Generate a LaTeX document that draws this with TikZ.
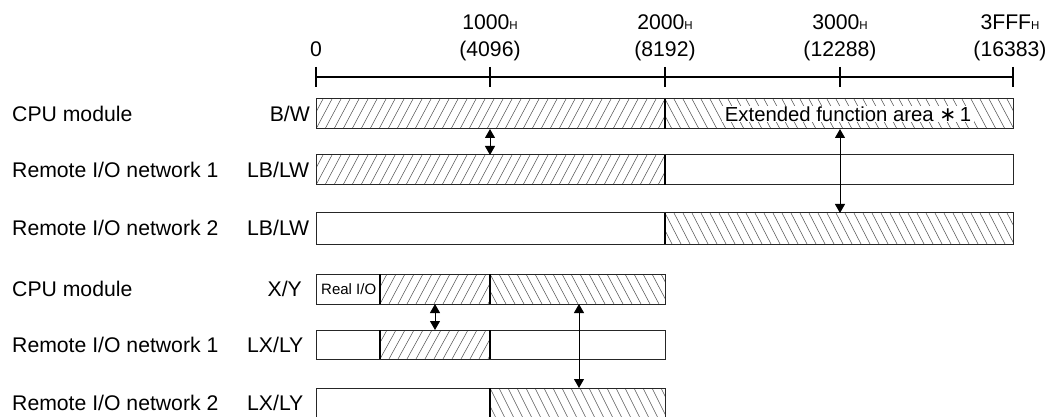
\documentclass[tikz,border=0pt]{standalone}
\usepackage{fontspec}
\setmainfont{Liberation Sans}
\newfontfamily\symfnt{DejaVu Sans}
\usetikzlibrary{arrows.meta}

\tikzset{
  box/.style={draw=black!85, line width=1pt},
  divider/.style={draw=black, line width=1.5pt},
  hatchline/.style={draw=black!65, line width=0.55pt},
  axisline/.style={line width=1.6pt},
  lbl/.style={font=\fontsize{21.2}{24}\selectfont, inner sep=0pt},
  extlbl/.style={font=\fontsize{20.3}{24}\selectfont, fill=white, inner xsep=3pt, inner ysep=1pt},
  small/.style={font=\fontsize{15}{17}\selectfont, inner sep=0pt},
  biarrow/.style={line width=1pt, {Triangle[width=10pt,length=9pt]}-{Triangle[width=10pt,length=9pt]}},
}

\newcommand\hsub{{\fontsize{11.5}{11.5}\selectfont H}}

% /// hatching: x1, y1 (top), x2, y2 (bottom)
\newcommand\hatchfwd[4]{%
  \begin{scope}
    \clip (#1,#2) rectangle (#3,#4);
    \pgfmathtruncatemacro\hN{(#3-#1+18)/9+1}
    \foreach \k in {0,...,\hN}{
      \draw[hatchline] ({#1-18+9*\k},#4) -- ++(16,{-(#4-#2)});
    }
  \end{scope}}
% \\\ hatching
\newcommand\hatchback[4]{%
  \begin{scope}
    \clip (#1,#2) rectangle (#3,#4);
    \pgfmathtruncatemacro\hN{(#3-#1+18)/9+1}
    \foreach \k in {0,...,\hN}{
      \draw[hatchline] ({#1-18+9*\k},#2) -- ++(16,{#4-#2});
    }
  \end{scope}}

\begin{document}
\begin{tikzpicture}[x=1pt,y=-1pt]
\useasboundingbox (0,0) rectangle (1061,417);

% ---------- axis ----------
\draw[axisline] (316,77) -- (1013,77);
\foreach \tx in {316,490,665,840,1013}{
  \draw[axisline] (\tx,67) -- (\tx,87);
}
\node[lbl, anchor=base] (t0) at (316,57) {0};
\node[lbl, anchor=base] (t1h) at (490,30) {1000\hsub};
\node[lbl, anchor=base] (t1d) at (490,57) {(4096)};
\node[lbl, anchor=base] (t2h) at (665,30) {2000\hsub};
\node[lbl, anchor=base] (t2d) at (665,57) {(8192)};
\node[lbl, anchor=base] (t3h) at (840,30) {3000\hsub};
\node[lbl, anchor=base] (t3d) at (840,57) {(12288)};
\node[lbl, anchor=base] (t4h) at (1010,30) {3FFF\hsub};
\node[lbl, anchor=base] (t4d) at (1010,57) {(16383)};

% ---------- row labels ----------
\node[lbl, anchor=base west] (n1) at (12,121.5) {CPU module};
\node[lbl, anchor=base east] (d1) at (310,121.5) {B/W};
\node[lbl, anchor=base west] (n2) at (12,177.5) {Remote I/O network 1};
\node[lbl, anchor=base west] (d2) at (247,177.5) {LB/LW};
\node[lbl, anchor=base west] (n3) at (12,236) {Remote I/O network 2};
\node[lbl, anchor=base west] (d3) at (247,236) {LB/LW};
\node[lbl, anchor=base west] (n4) at (12,296.5) {CPU module};
\node[lbl, anchor=base east] (d4) at (302,296.5) {X/Y};
\node[lbl, anchor=base west] (n5) at (12,352) {Remote I/O network 1};
\node[lbl, anchor=base west] (d5) at (247,352) {LX/LY};
\node[lbl, anchor=base west] (n6) at (12,410.5) {Remote I/O network 2};
\node[lbl, anchor=base west] (d6) at (247,410.5) {LX/LY};

% ---------- row 1 : B/W ----------
\hatchfwd{316}{99}{665}{129}
\hatchback{665}{99}{1013}{129}
\node[extlbl] (ext) at (848,114)
  {Extended function area {\symfnt ∗}\,1};
\draw[box] (316,99) rectangle (1013,129);
\draw[divider] (665,99) -- (665,129);

% ---------- row 2 : LB/LW ----------
\hatchfwd{316}{155}{665}{185}
\draw[box] (316,155) rectangle (1013,185);
\draw[divider] (665,155) -- (665,185);

% ---------- row 3 : LB/LW ----------
\hatchback{665}{213}{1013}{244}
\draw[box] (316,213) rectangle (1013,244);
\draw[divider] (665,213) -- (665,244);

% ---------- row 4 : X/Y ----------
\hatchfwd{380}{274}{490}{304}
\hatchback{490}{274}{665}{304}
\draw[box] (316,274) rectangle (665,304);
\draw[divider] (380,274) -- (380,304);
\draw[divider] (490,274) -- (490,304);
\node[small, anchor=west] (rio) at (321,289) {Real I/O};

% ---------- row 5 : LX/LY ----------
\hatchfwd{380}{330}{490}{359}
\draw[box] (316,330) rectangle (665,359);
\draw[divider] (380,330) -- (380,359);
\draw[divider] (490,330) -- (490,359);

% ---------- row 6 : LX/LY ----------
\hatchback{490}{388}{665}{420}
\draw[box] (316,388) rectangle (665,420);
\draw[divider] (490,388) -- (490,420);

% ---------- arrows ----------
\coordinate (a1) at (490,129);
\coordinate (b1) at (490,155);
\coordinate (a2) at (840,129);
\coordinate (b2) at (840,213);
\coordinate (a3) at (435,304);
\coordinate (b3) at (435,330);
\coordinate (a4) at (579,304);
\coordinate (b4) at (579,388);
\draw[biarrow] (a1) -- (b1);
\draw[biarrow] (a2) -- (b2);
\draw[biarrow] (a3) -- (b3);
\draw[biarrow] (a4) -- (b4);
\end{tikzpicture}
\end{document}
